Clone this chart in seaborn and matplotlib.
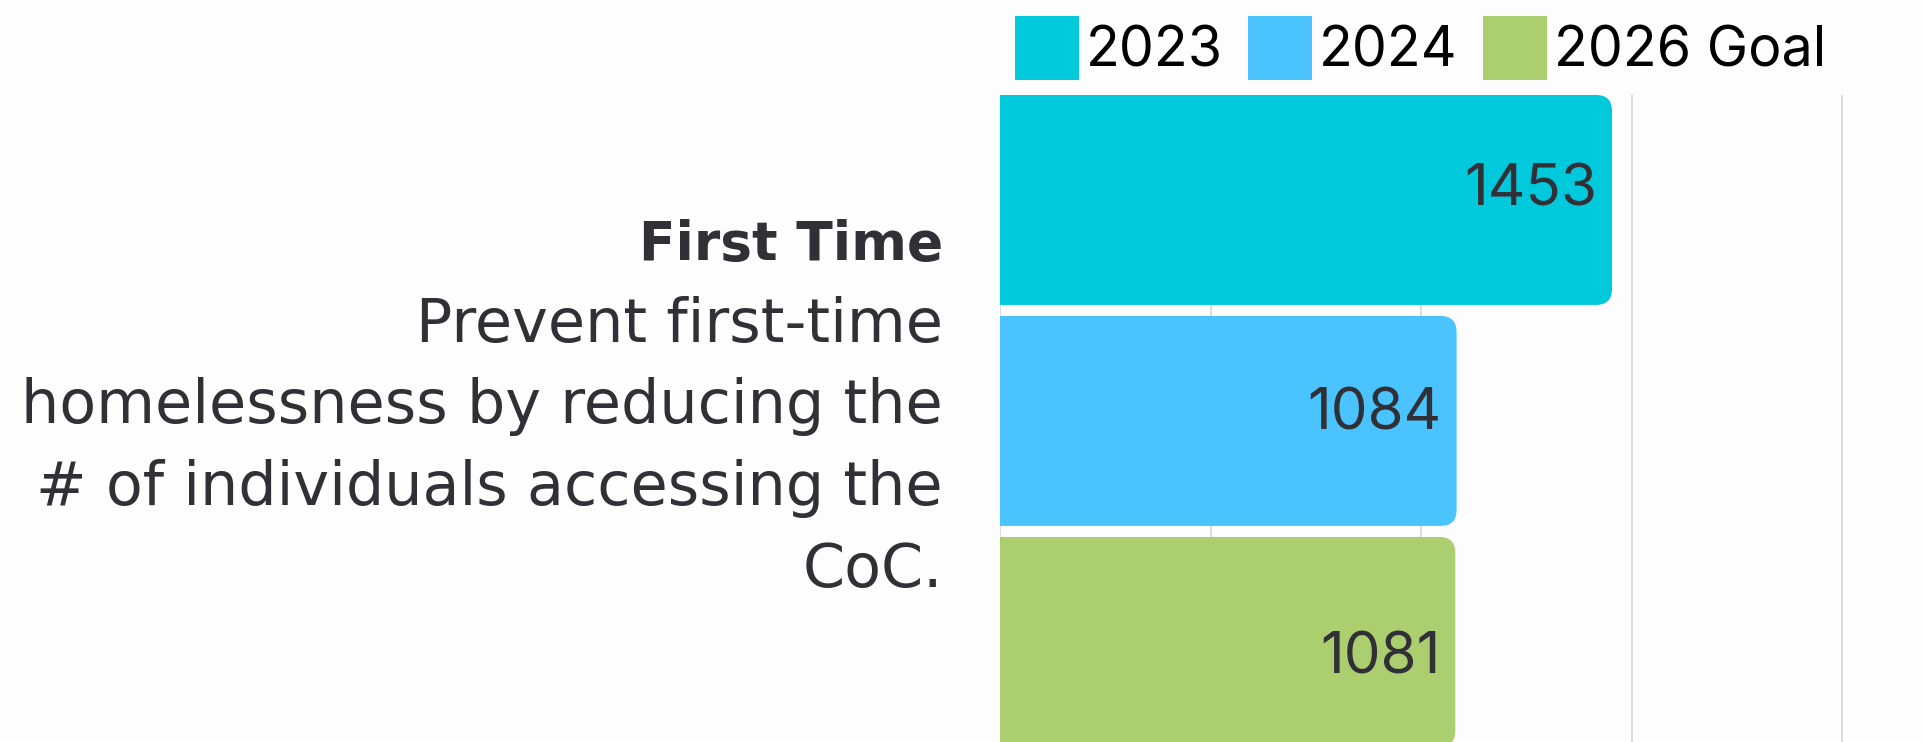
import matplotlib
matplotlib.use("Agg")
import matplotlib.pyplot as plt
import seaborn as sns
import pandas as pd
from matplotlib.patches import FancyBboxPatch, Patch

# ---- data ----
measures = ["First Time"]
years = ["2023", "2024", "2026 Goal"]
values = [1453, 1084, 1081]
title_line = "First Time"
description_lines = [
    "Prevent first-time",
    "homelessness by reducing the",
    "# of individuals accessing the",
    "CoC.",
]
colors = ["#00C9DC", "#4AC3FF", "#ABCE6F"]
gridticks = [0, 500, 1000, 1500, 2000]

df = pd.DataFrame({"measure": measures * len(years), "year": years, "value": values})

sns.set_theme(style="white")
FONT = "Inter"
plt.rcParams["font.family"] = [FONT, "DejaVu Sans"]
LABEL_FONT = ["DejaVu Sans"]

W, H, DPI = 1925, 742, 100
fig = plt.figure(figsize=(W / DPI, H / DPI), dpi=DPI)
bg = "#FDFDFD"
fig.patch.set_facecolor(bg)

ax_left, ax_top = 1000, 95
ax = fig.add_axes([ax_left / W, 0, (W - ax_left) / W, 1 - ax_top / H])
ax.set_facecolor(bg)

sns.barplot(data=df, y="measure", x="value", hue="year", hue_order=years,
            palette=colors, orient="h", width=0.8, gap=0.05, ax=ax,
            legend=False, saturation=1)

ax.set_xlim(0, 925 / 0.4212)
ax.set_ylim(0.3874, -0.3933)
ax.set_xticks(gridticks)
ax.set_xticklabels([])
ax.tick_params(left=False, bottom=False, labelleft=False, labelbottom=False)
ax.set_xlabel("")
ax.set_ylabel("")
for s in ax.spines.values():
    s.set_visible(False)
ax.grid(axis="x", color="#D6D6D6", linewidth=1.2)
ax.set_axisbelow(True)

# pixel scales
ppx = ax.get_position().width * W / (ax.get_xlim()[1] - ax.get_xlim()[0])
ppy = ax.get_position().height * H / abs(ax.get_ylim()[1] - ax.get_ylim()[0])
r_px = 16
rx = r_px / ppx
ry = r_px / ppy

bars = list(ax.patches)
label_offsets_px = [6, 9, 32]
for i, p in enumerate(bars):
    x0, y0, w, h = p.get_x(), p.get_y(), p.get_width(), p.get_height()
    fc = p.get_facecolor()
    p.remove()
    fb = FancyBboxPatch((x0 - rx, y0), w + rx, h,
                        boxstyle=f"round,pad=0,rounding_size={rx}",
                        mutation_aspect=ry / rx, facecolor=fc,
                        edgecolor="none", zorder=2)
    ax.add_patch(fb)
    yc = y0 + h / 2 + label_offsets_px[i] / ppy
    ax.text(x0 + w - 15 / ppx, yc, f"{values[i]}", ha="right", va="baseline",
            fontsize=42, color="#303036", zorder=3)

# category label text
tx = 943 / W
fig.text(tx, 1 - 260 / H, title_line, ha="right", va="baseline",
         fontsize=38.5, fontweight="bold", color="#303036", family=LABEL_FONT)
for i, line in enumerate(description_lines):
    fig.text(tx, 1 - (341.7 + i * 81.7) / H, line, ha="right", va="baseline",
             fontsize=43.5, color="#303036", family=LABEL_FONT)

# legend
handles = [Patch(facecolor=c, edgecolor="none") for c in colors]
fs = 40
fpx = fs * DPI / 72
hl = 64 / fpx
hh = (64 / fpx - 0.245) / 0.65
fig.legend(handles, years, loc="upper left",
           bbox_to_anchor=(1015 / W, 1 - 16 / H), ncol=3, frameon=False,
           fontsize=fs, handlelength=hl, handleheight=hh,
           handletextpad=7 / fpx, columnspacing=25 / fpx, borderpad=0,
           borderaxespad=0, labelcolor="#000000")

fig.savefig("out.png", dpi=DPI, facecolor=bg)
